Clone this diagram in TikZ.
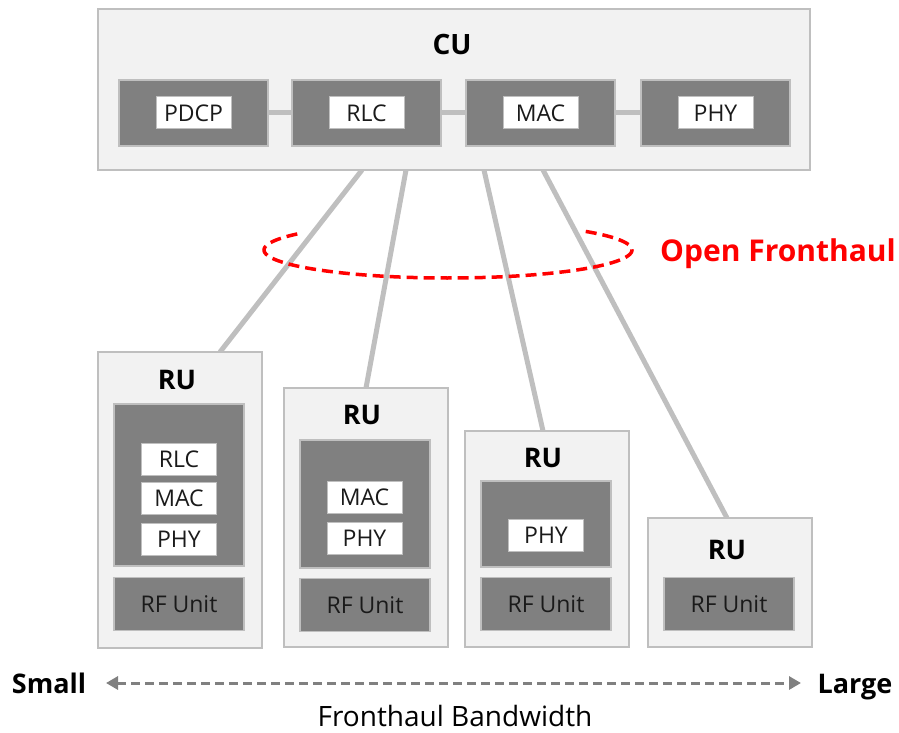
\documentclass[tikz,border=0pt]{standalone}
\usepackage{fontspec}
\setmainfont{Open Sans}
\usetikzlibrary{arrows.meta}
\definecolor{panel}{HTML}{F2F2F2}
\definecolor{rim}{HTML}{BFBFBF}
\definecolor{block}{HTML}{808080}
\definecolor{textdark}{HTML}{1A1A1A}
\begin{document}
\begin{tikzpicture}[x=1pt,y=-1pt,
  panelbox/.style={draw=rim,line width=2pt,fill=panel,inner sep=0pt},
  layerbox/.style={draw=rim,line width=1.5pt,fill=block,inner sep=0pt},
  tag/.style={draw=rim,line width=1pt,fill=white,inner sep=0pt,
    minimum width=75pt,minimum height=32pt,font=\fontsize{23}{26}\selectfont,text=textdark},
  rfbox/.style={layerbox,minimum width=130pt,minimum height=53pt,
    font=\fontsize{23}{26}\selectfont,text=textdark},
  title/.style={font=\bfseries\fontsize{27}{31}\selectfont,text=black},
  link/.style={draw=rim,line width=5pt},
  ring/.style={draw=red,line width=3.5pt,dash pattern=on 11pt off 6pt},
  scale arrow/.style={draw=block,line width=3pt,dash pattern=on 9pt off 5pt,
    {Triangle[length=12pt,width=13pt]}-{Triangle[length=12pt,width=13pt]}}
]
\useasboundingbox (0,0) rectangle (899,733);

% cable ends on the CU and RU edges
\coordinate (c1) at (362,170);
\coordinate (c2) at (406,170);
\coordinate (c3) at (484,170);
\coordinate (c4) at (543,170);
\coordinate (r1) at (220,352);
\coordinate (r2) at (366,388);
\coordinate (r3) at (543,431);
\coordinate (r4) at (727,518);

% fronthaul cables
\draw[link] (c1) -- (r1);
\draw[link] (c2) -- (r2);
\draw[link] (c3) -- (r3);
\draw[link] (c4) -- (r4);

% central unit
\node[panelbox,minimum width=712pt,minimum height=161pt] (cu) at (454,89.5) {};
\node[title,font=\bfseries\fontsize{28}{32}\selectfont] (cutitle) at (452,45) {CU};
\node[layerbox,minimum width=149pt,minimum height=66pt] (cpdcp) at (193.5,113) {};
\node[layerbox,minimum width=149pt,minimum height=66pt] (crlc) at (366.5,113) {};
\node[layerbox,minimum width=149pt,minimum height=66pt] (cmac) at (540.5,113) {};
\node[layerbox,minimum width=149pt,minimum height=66pt] (cphy) at (715.5,113) {};
\draw[link] (cpdcp.east) -- (crlc.west);
\draw[link] (crlc.east) -- (cmac.west);
\draw[link] (cmac.east) -- (cphy.west);
\node[tag] (tpdcp) at (cpdcp) {PDCP};
\node[tag] (trlc) at (crlc) {RLC};
\node[tag] (tmac) at (cmac) {MAC};
\node[tag] (tphy) at (cphy) {PHY};

% RU 1
\node[panelbox,minimum width=164pt,minimum height=296pt] (ru1) at (180,500) {};
\node[title] (ru1t) at (177,380) {RU};
\node[layerbox,minimum width=130pt,minimum height=162pt] (ru1l) at (179,485) {};
\node[tag] (ru1a) at (179,459) {RLC};
\node[tag] (ru1b) at (179,498) {MAC};
\node[tag] (ru1c) at (179,539) {PHY};
\node[rfbox] (ru1rf) at (179,604) {RF Unit};

% RU 2
\node[panelbox,minimum width=164pt,minimum height=259pt] (ru2) at (365.5,517) {};
\node[title] (ru2t) at (362,415) {RU};
\node[layerbox,minimum width=130pt,minimum height=128pt] (ru2l) at (365,504) {};
\node[tag] (ru2a) at (364.5,497) {MAC};
\node[tag] (ru2b) at (364.5,538) {PHY};
\node[rfbox] (ru2rf) at (365,605) {RF Unit};

% RU 3
\node[panelbox,minimum width=164pt,minimum height=216pt] (ru3) at (547,539) {};
\node[title] (ru3t) at (543,458) {RU};
\node[layerbox,minimum width=130pt,minimum height=86pt] (ru3l) at (546,524) {};
\node[tag] (ru3a) at (546,535) {PHY};
\node[rfbox] (ru3rf) at (546,604) {RF Unit};

% RU 4
\node[panelbox,minimum width=164pt,minimum height=129pt] (ru4) at (730,582.5) {};
\node[title] (ru4t) at (727,550) {RU};
\node[rfbox] (ru4rf) at (729,604) {RF Unit};

% open fronthaul ring: front half only, y grows downward here
\draw[ring] plot[domain=145:403,samples=90,smooth]
  ({448+184*cos(\x)},{250-28*sin(\x)});
\node[text=red,font=\bfseries\fontsize{30}{34}\selectfont] (ofh) at (778,254) {Open Fronthaul};

% bandwidth scale
\node[font=\bfseries\fontsize{27}{31}\selectfont,anchor=base] (small) at (49,693) {Small};
\node[font=\bfseries\fontsize{27}{31}\selectfont,anchor=base] (large) at (855,693) {Large};
\coordinate (al) at (106,683);
\coordinate (ar) at (801,683);
\draw[scale arrow] (al) -- (ar);
\node[font=\fontsize{28}{32}\selectfont,anchor=base,inner sep=0pt] (bw) at (455,726) {Fronthaul Bandwidth};
\end{tikzpicture}
\end{document}
